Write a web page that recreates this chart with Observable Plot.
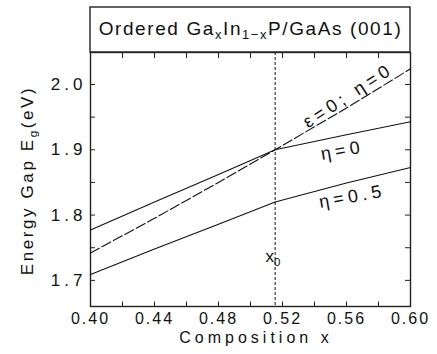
<!DOCTYPE html>
<html><head><meta charset="utf-8">
<script src="https://cdn.jsdelivr.net/npm/d3@7"></script>
<script src="https://cdn.jsdelivr.net/npm/@observablehq/plot@0.6"></script>
<style>
html,body{margin:0;padding:0;background:#fff;}
svg{font-family:"Liberation Sans",Arial,sans-serif;}
[aria-label="x-axis tick label"] text{letter-spacing:2px;}
[aria-label="y-axis tick label"] text{letter-spacing:4px;}
.ttl text{letter-spacing:1.6px;}
.ann text{letter-spacing:4.3px;}
.xlab text{letter-spacing:4px;}
.ylab text{letter-spacing:2.6px;}
</style>
</head><body>
<div id="chart"></div>
<script>
// Data
const compX   = [0.40, 0.44, 0.48, 0.5154, 0.56, 0.60];
const eta0    = [1.777, 1.820, 1.862, 1.900, 1.923, 1.943];
const eps0eta0 = [1.742, 1.795, 1.850, 1.900, 1.964, 2.024];
const eta05   = [1.709, 1.748, 1.786, 1.820, 1.849, 1.873];
const x0 = 0.5154;
const xTickLabels = [0.40, 0.44, 0.48, 0.52, 0.56, 0.60];
const yTickLabels = [1.7, 1.8, 1.9, 2.0];
const xMinor = d3.range(0, 11).map(i => +(0.40 + i * 0.02).toFixed(2));
const yMinor = d3.range(0, 7).map(i => +(1.70 + i * 0.05).toFixed(2));
const yDomain = [1.66, 2.049];
const xDomain = [0.40, 0.60];

const toRows = (ys) => compX.map((x, i) => ({x, y: ys[i]}));

const W = 437, H = 354, mL = 90, mR = 27, mT = 52, mB = 48;
const innerH = H - mT - mB, innerW = W - mL - mR;
const pxY = (yDomain[1] - yDomain[0]) / innerH;   // data per pixel (y)
const pxX = (xDomain[1] - xDomain[0]) / innerW;   // data per pixel (x)

const plot = Plot.plot({
  width: W, height: H,
  marginLeft: mL, marginRight: mR, marginTop: mT, marginBottom: mB,
  x: {domain: xDomain, label: null},
  y: {domain: yDomain, label: null},
  marks: [
    // title box (above the frame)
    Plot.rect([0], {x1: xDomain[0], x2: xDomain[1], y1: yDomain[1], y2: yDomain[1] + 45 * pxY, fill: "none", stroke: "#222", strokeWidth: 1.4, clip: false}),
    Plot.text(["Ordered GaxIn1−xP/GaAs (001)"], {x: 0.5, y: yDomain[1] + 24 * pxY, text: d => d, fontSize: 19, textAnchor: "middle", lineAnchor: "middle", fill: "#111", className: "ttl"}),
    Plot.frame({stroke: "#222", strokeWidth: 1.4}),
    // inward ticks
    Plot.ruleX(xMinor, {insetTop: innerH - 4.5, stroke: "#222"}),
    Plot.ruleX(xMinor, {insetBottom: innerH - 6, stroke: "#222"}),
    Plot.ruleY(yMinor, {insetLeft: innerW - 5, stroke: "#222"}),
    Plot.ruleY(yMinor, {insetRight: innerW - 5, stroke: "#222"}),
    Plot.axisX(xTickLabels, {tickSize: 0, tickPadding: 6, fontSize: 16, tickFormat: d3.format(".2f"), fill: "#111", label: null}),
    Plot.axisY(yTickLabels, {tickSize: 0, tickPadding: 4, fontSize: 17, tickFormat: d3.format(".1f"), fill: "#111", label: null}),
    // x0 line
    Plot.ruleX([x0], {stroke: "#111", strokeDasharray: "3,2", strokeWidth: 1}),
    // curves
    Plot.line(toRows(eta0), {x: "x", y: "y", stroke: "#111", strokeWidth: 1.1}),
    Plot.line(toRows(eps0eta0), {x: "x", y: "y", stroke: "#111", strokeWidth: 1.1, strokeDasharray: "10,3"}),
    Plot.line(toRows(eta05), {x: "x", y: "y", stroke: "#111", strokeWidth: 1.1}),
    // annotations
    Plot.text(["ε=0; η=0"], {x: 0.5611, y: 1.983, text: d => d, rotate: -33, fontSize: 18, textAnchor: "middle", lineAnchor: "middle", fill: "#111", className: "ann"}),
    Plot.text(["η=0"], {x: 0.5574, y: 1.899, text: d => d, rotate: -10, fontSize: 18, textAnchor: "middle", lineAnchor: "middle", fill: "#111", className: "ann"}),
    Plot.text(["η=0.5"], {x: 0.5636, y: 1.8285, text: d => d, rotate: -10, fontSize: 18, textAnchor: "middle", lineAnchor: "middle", fill: "#111", className: "ann"}),
    Plot.text(["x0"], {x: 0.5141, y: 1.7366, text: d => d, fontSize: 17, textAnchor: "middle", lineAnchor: "middle", fill: "#111", className: "xzero"}),
    // axis titles
    Plot.text(["Composition x"], {x: 0.5034, y: yDomain[0] - 31 * pxY, text: d => d, fontSize: 16, textAnchor: "middle", lineAnchor: "middle", fill: "#111", className: "xlab"}),
    Plot.text(["Energy Gap Eg(eV)"], {x: xDomain[0] - 62.5 * pxX, y: 1.853, text: d => d, rotate: -90, fontSize: 17, textAnchor: "middle", lineAnchor: "middle", fill: "#111", className: "ylab"})
  ]
});

function subify(selector, parts) {
  d3.select(plot).selectAll(selector).each(function () {
    const t = d3.select(this);
    t.text(null);
    let shifted = false;
    for (const [s, sub] of parts) {
      const ts = t.append("tspan").text(s);
      if (sub) {
        ts.attr("font-size", "0.68em");
        if (!shifted) { ts.attr("dy", "4"); shifted = true; }
      } else if (shifted) {
        ts.attr("dy", "-4"); shifted = false;
      }
    }
  });
}
subify(".ttl text", [["Ordered Ga", false], ["x", true], ["In", false], ["1−x", true], ["P/GaAs (001)", false]]);
subify(".xzero text", [["x", false], ["0", true]]);
subify(".ylab text", [["Energy Gap E", false], ["g", true], ["(eV)", false]]);

document.getElementById("chart").appendChild(plot);
</script>
</body></html>
